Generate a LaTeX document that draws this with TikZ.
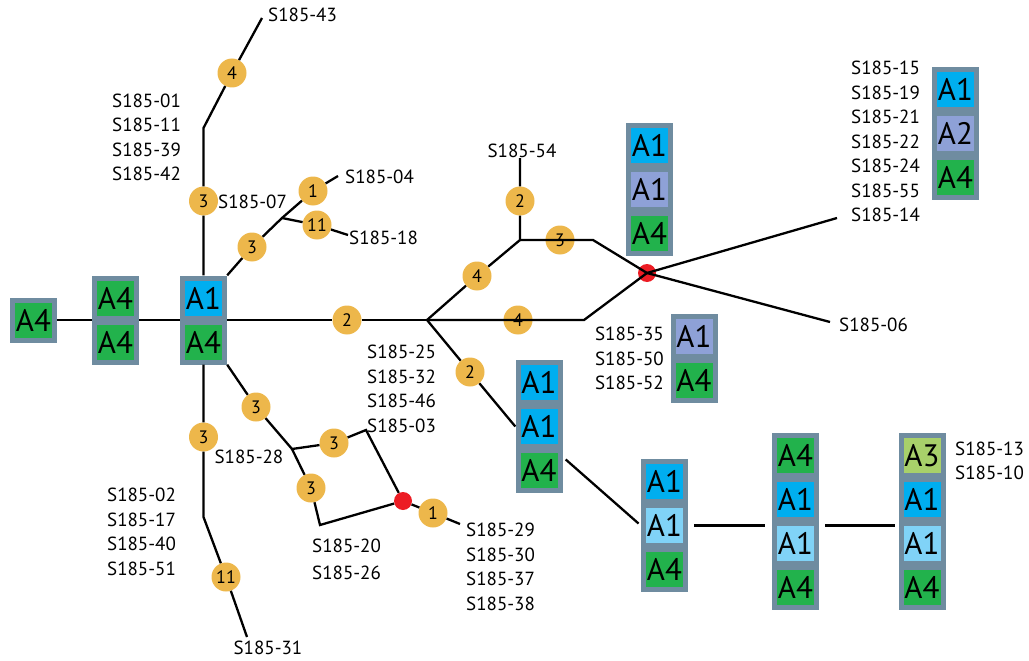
\documentclass[tikz,border=0pt]{standalone}
\usepackage{fontspec}
\setmainfont{PT Sans}
\usetikzlibrary{calc}

\definecolor{boxgrey}{HTML}{6F8CA0}
\definecolor{hblue}{HTML}{00AEEF}
\definecolor{hgreen}{HTML}{22B24C}
\definecolor{hlav}{HTML}{8EA1D7}
\definecolor{hlight}{HTML}{80D3F7}
\definecolor{hlime}{HTML}{A8D06A}
\definecolor{numorange}{HTML}{EDB74B}
\definecolor{dotred}{HTML}{EC1C24}

\tikzset{
  num/.style={circle,fill=numorange,inner sep=0pt,minimum size=29pt,font=\fontsize{18}{18}\selectfont},
  redpt/.style={circle,fill=dotred,inner sep=0pt,minimum size=18pt},
  stackframe/.style={fill=boxgrey,minimum width=47pt,inner sep=0pt},
  cell/.style={minimum width=37pt,minimum height=35pt,inner sep=0pt,font=\fontsize{31}{31}\selectfont},
  lbl/.style={font=\fontsize{19}{24.5}\selectfont,inner sep=0pt,align=left},
  link/.style={line width=2.3pt,black},
}

% frame with its cells stacked downwards: name, centre x, top y, number of cells, colour/text list
\newcommand{\cellstack}[5]{%
  \node[stackframe,minimum height={44*#4+1}] (#1) at (#2,{#3+(44*#4+1)/2}) {};
  \foreach \col/\lab [count=\i] in {#5}
    \node[cell,fill=\col] (#1-\i) at (#2,{#3+22.5+44*(\i-1)}) {\lab};
}

\begin{document}
\begin{tikzpicture}[x=1pt,y=-1pt]
  \useasboundingbox (0,0) rectangle (1029,661);

  % haplotype stacks
  \cellstack{stL}{33.5}{297.5}{1}{hgreen/A4}
  \cellstack{stM}{115.5}{275.5}{2}{hgreen/A4,hgreen/A4}
  \cellstack{stO}{203.5}{275.5}{2}{hblue/A1,hgreen/A4}
  \cellstack{stN}{649.5}{123}{3}{hblue/A1,hlav/A1,hgreen/A4}
  \cellstack{stNE}{955.5}{67}{3}{hblue/A1,hlav/A2,hgreen/A4}
  \cellstack{stE}{694}{314}{2}{hlav/A1,hgreen/A4}
  \cellstack{stC}{539}{360}{3}{hblue/A1,hblue/A1,hgreen/A4}
  \cellstack{stD}{664.5}{459}{3}{hblue/A1,hlight/A1,hgreen/A4}
  \cellstack{stF}{795.5}{433}{4}{hgreen/A4,hblue/A1,hlight/A1,hgreen/A4}
  \cellstack{stG}{922}{433}{4}{hlime/A3,hblue/A1,hlight/A1,hgreen/A4}

  % mutation steps
  \node[num] (n4top) at (232,73) {4};
  \node[num] (n3up) at (203.5,201) {3};
  \node[num] (n3a) at (252,247) {3};
  \node[num] (n1a) at (313,191) {1};
  \node[num] (n11a) at (317,225) {11};
  \node[num] (n2h) at (347,320) {2};
  \node[num] (n4up) at (477,276) {4};
  \node[num] (n2up) at (520,201) {2};
  \node[num] (n3top) at (560,240) {3};
  \node[num] (n4low) at (518,320) {4};
  \node[num] (n2dn) at (470,372) {2};
  \node[num] (n3dn) at (203.5,437) {3};
  \node[num] (n11dn) at (226,577) {11};
  \node[num] (n3b) at (256,407) {3};
  \node[num] (n3c) at (334,443) {3};
  \node[num] (n3d) at (311,488) {3};
  \node[num] (n1b) at (433,513) {1};

  \node[redpt] (red1) at (647,273) {};
  \node[redpt] (red2) at (403,501) {};

  % bends and free ends
  \coordinate (t43) at (262,18);
  \coordinate (kink1) at (203.5,128);
  \coordinate (jA) at (282,218);
  \coordinate (e04) at (338,176);
  \coordinate (e18) at (348,235);
  \coordinate (jC) at (427,320);
  \coordinate (jU) at (520,240);
  \coordinate (e54) at (520,158);
  \coordinate (kU) at (593,240);
  \coordinate (kL) at (584,320);
  \coordinate (e14) at (837,218);
  \coordinate (e06) at (830,322);
  \coordinate (kink2) at (203.5,517);
  \coordinate (e31) at (247,637);
  \coordinate (jS) at (292,449);
  \coordinate (kS1) at (366,430);
  \coordinate (kS2) at (320,525);
  \coordinate (e29) at (460,524);

  \draw[link] (stL) -- (stM);
  \draw[link] (stM) -- (stO);
  \draw[link] (stO) -- (n3up) -- (kink1) -- (n4top) -- (t43);
  \draw[link] (stO.north east) -- (n3a) -- (jA) -- (n1a) -- (e04);
  \draw[link] (jA) -- (n11a) -- (e18);
  \draw[link] (stO) -- (n2h) -- (jC);
  \draw[link] (jC) -- (n4up) -- (jU) -- (n2up) -- (e54);
  \draw[link] (jU) -- (kU) -- (red1.center);
  \draw[link] (jC) -- (kL) -- (red1.center);
  \draw[link] (red1.center) -- (e14);
  \draw[link] (red1.center) -- (e06);
  \draw[link] (jC) -- (n2dn) -- (stC.west);
  \draw[link,shorten <=4pt,shorten >=3pt] (stC.-52) -- (stD.west);
  \draw[link,shorten <=6pt,shorten >=7pt] (stD.east) -- (stD.east -| stF.west);
  \draw[link,shorten <=6pt,shorten >=3pt] (stF.east |- stD.east) -- (stG.west |- stD.east);
  \draw[link] (stO) -- (n3dn) -- (kink2) -- (n11dn) -- (e31);
  \draw[link] (stO.south east) -- (n3b) -- (jS) -- (n3c) -- (kS1) -- (red2) -- (n1b) -- (e29);
  \draw[link] (jS) -- (n3d) -- (kS2) -- (red2);

  % sample labels
  \node[lbl,anchor=west] (l43) at (268,15) {S185-43};
  \node[lbl,anchor=west] (l01) at (112,137.5) {S185-01\\S185-11\\S185-39\\S185-42};
  \node[lbl,anchor=west] (l07) at (218,202) {S185-07};
  \node[lbl,anchor=west] (l04) at (345,177) {S185-04};
  \node[lbl,anchor=west] (l18) at (349,238) {S185-18};
  \node[lbl] (l54) at (522,151) {S185-54};
  \node[lbl,anchor=west] (l25) at (367,389) {S185-25\\S185-32\\S185-46\\S185-03};
  \node[lbl] (l28) at (249,457) {S185-28};
  \node[lbl,anchor=west] (l02) at (107,532) {S185-02\\S185-17\\S185-40\\S185-51};
  \node[lbl] (l31) at (268,648) {S185-31};
  \node[lbl,anchor=west,font=\fontsize{19}{27.5}\selectfont] (l20) at (312,559.5) {S185-20\\S185-26};
  \node[lbl,anchor=west] (l29) at (466,567) {S185-29\\S185-30\\S185-37\\S185-38};
  \node[lbl,anchor=east,align=right] (l35) at (664,358.5) {S185-35\\S185-50\\S185-52};
  \node[lbl,anchor=west] (l15) at (851,129.5) {S185-15\\S185-19\\S185-21\\S185-22\\S185-24\\S185-55};
  \node[lbl,anchor=west] (l14) at (851,215) {S185-14};
  \node[lbl,anchor=west] (l06) at (839,325) {S185-06};
  \node[lbl,anchor=west] (l13) at (955,461) {S185-13\\S185-10};
\end{tikzpicture}
\end{document}
